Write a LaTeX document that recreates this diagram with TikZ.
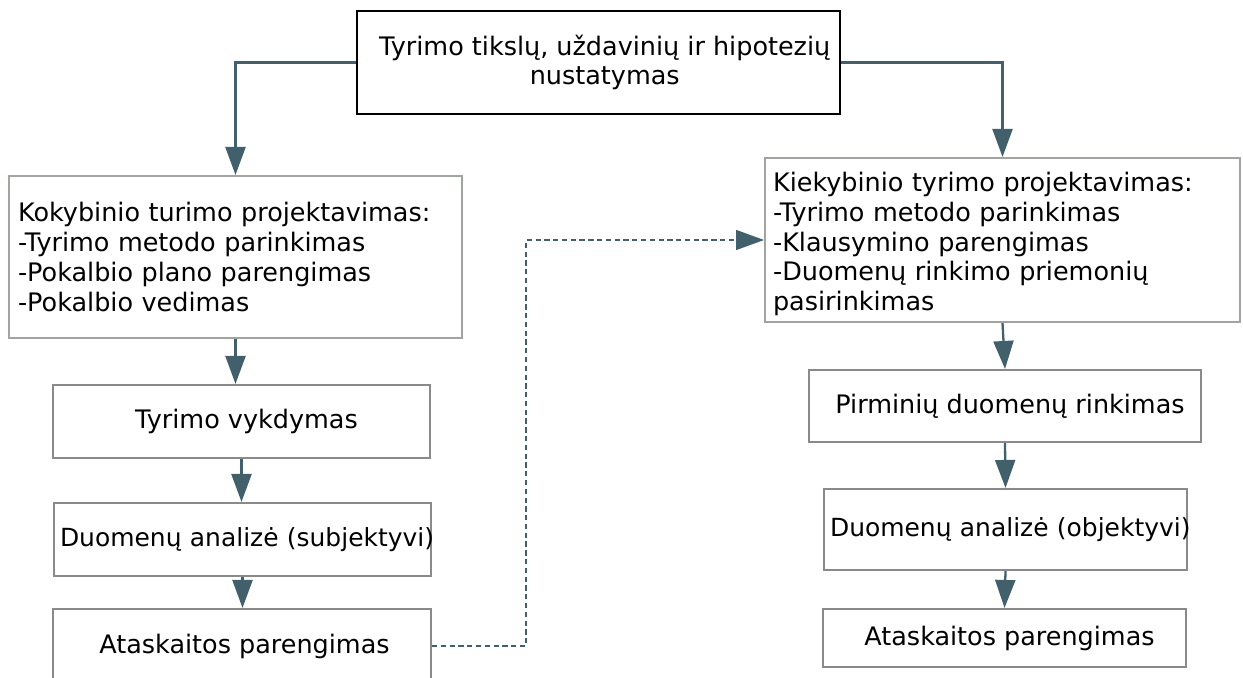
\documentclass[tikz,border=0pt]{standalone}
\usepackage{fontspec}
\setmainfont{DejaVu Sans}
\usetikzlibrary{arrows.meta,positioning,calc}
\definecolor{slate}{HTML}{41606B}
\definecolor{boxgray}{HTML}{8A8A8A}
\definecolor{biggray}{HTML}{A0A59F}
\tikzset{>={Triangle[length=5.6mm, width=4mm]},
  box/.style={draw=boxgray, line width=1.2pt, inner sep=0pt, align=center, font=\fontsize{14.5}{17}\selectfont},
  widebox/.style={box, align=left, inner xsep=0.12cm, font=\fontsize{14.2}{17}\selectfont},
  bigbox/.style={draw=biggray, line width=1.2pt, inner ysep=0pt, align=left, font=\fontsize{14.5}{17.2}\selectfont},
  arr/.style={->, draw=slate, line width=1.3pt},
  dasharr/.style={->, draw=slate, line width=0.9pt, dash pattern=on 3pt off 2pt}}

\begin{document}
\begin{tikzpicture}[x=0.02cm, y=-0.02cm]
  \useasboundingbox (0,0) rectangle (1243,678);
  % goal
  \node[box, draw=black, minimum width=9.66cm, minimum height=2.06cm] (goal) at (598.5,62.5) {\hspace{0.25cm}Tyrimo tikslų, uždavinių ir hipotezių\\\hspace{0.25cm}nustatymas};
  % qualitative branch
  \node[bigbox, minimum height=3.24cm, inner xsep=0.18cm, text width=8.7cm] (qual) at (235.5,257) {Kokybinio turimo projektavimas:\\-Tyrimo metodo parinkimas\\-Pokalbio plano parengimas\\-Pokalbio vedimas};
  \node[box, minimum width=7.54cm, minimum height=1.46cm] (qrun) at (241.5,421.5) {\hspace{0.2cm}Tyrimo vykdymas};
  \node[widebox, text width=7.3cm, minimum height=1.46cm] (qanal) at (242.5,539.5) {\mbox{Duomenų analizė (subjektyvi)}};
  \node[box, minimum width=7.56cm, minimum height=1.48cm] (qrep) at (242,646) {\hspace{0.1cm}Ataskaitos parengimas};
  % quantitative branch
  \node[bigbox, minimum height=3.28cm, inner xsep=0.16cm, text width=9.18cm, font=\fontsize{14.5}{16.9}\selectfont] (quant) at (1002.5,240) {\rule{0pt}{0.55cm}Kiekybinio tyrimo projektavimas:\\-Tyrimo metodo parinkimas\\-Klausymino parengimas\\-Duomenų rinkimo priemonių\\pasirinkimas};
  \node[box, minimum width=7.84cm, minimum height=1.44cm] (prim) at (1005,406) {\hspace{0.2cm}Pirminių duomenų rinkimas};
  \node[widebox, text width=7.02cm, minimum height=1.62cm] (nanal) at (1005.5,529.5) {\mbox{Duomenų analizė (objektyvi)}};
  \node[box, minimum width=7.26cm, minimum height=1.16cm] (nrep) at (1004.5,638) {\hspace{0.2cm}Ataskaitos parengimas};
  % connectors
  \draw[arr] (goal.west) -| (qual.north);
  \draw[arr] (goal.east) -| (quant.north);
  \draw[arr] (qual.south) -- (qual.south |- qrun.north);
  \draw[arr] (qrun.south) -- (qrun.south |- qanal.north);
  \draw[arr] (qanal.south) -- (qanal.south |- qrep.north);
  \draw[arr] (quant.south) -- (prim.north);
  \draw[arr] (prim.south) -- (nanal.north);
  \draw[arr] (nanal.south) -- (nrep.north);
  \coordinate (dbend) at (526,0);
  \draw[dasharr] (qrep.east) -| (dbend |- quant.west) -- (quant.west);
\end{tikzpicture}
\end{document}
